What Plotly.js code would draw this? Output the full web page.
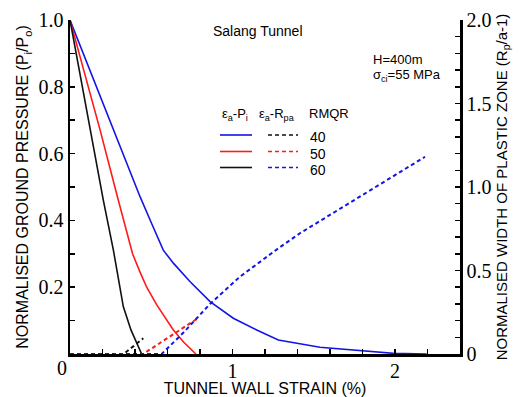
<!DOCTYPE html>
<html>
<head>
<meta charset="utf-8">
<script src="https://cdn.plot.ly/plotly-3.0.1.min.js"></script>
<style>
html,body{margin:0;padding:0;background:#fff;}
#chart{width:520px;height:397px;}
</style>
</head>
<body>
<div id="chart"></div>
<script>
// Ground reaction curves (tunnel wall strain % vs normalised ground pressure Pi/Po)
const strainP40 = [0, 0.267, 0.349, 0.431, 0.503, 0.574, 0.636, 0.738, 0.862, 1.005, 1.149, 1.282, 1.538, 1.785, 1.99, 2.195];
const pres40    = [1.0, 0.671, 0.571, 0.471, 0.39, 0.311, 0.272, 0.217, 0.157, 0.107, 0.072, 0.042, 0.020, 0.009, 0.002, 0];
const strainP50 = [0, 0.185, 0.297, 0.385, 0.431, 0.472, 0.533, 0.636, 0.70, 0.775];
const pres50    = [1.0, 0.671, 0.461, 0.30, 0.245, 0.200, 0.148, 0.072, 0.035, 0];
const strainP60 = [0, 0.123, 0.205, 0.267, 0.328, 0.375, 0.441];
const pres60    = [1.0, 0.671, 0.461, 0.311, 0.142, 0.072, 0];
// Plastic zone curves (tunnel wall strain % vs Rp/a-1)
const strainR40 = [0, 0.564, 0.70, 0.862, 1.046, 1.282, 1.415, 1.6, 2.185];
const rpa40     = [0, 0, 0.13, 0.30, 0.463, 0.633, 0.723, 0.832, 1.181];
const strainR50 = [0, 0.45, 0.78];
const rpa50     = [0, 0, 0.21];
const strainR60 = [0, 0.33, 0.451];
const rpa60     = [0, 0, 0.094];
// Axis ticks (unlabelled entries are the small intermediate ticks)
const xTickVals  = [0.2, 0.4, 0.6, 0.8, 1.0, 1.2, 1.4, 1.6, 1.8, 2.0, 2.2];
const xTickText  = ['', '', '', '', '1', '', '', '', '', '2', ''];
const yTickVals  = [0.1, 0.2, 0.3, 0.4, 0.5, 0.6, 0.7, 0.8, 0.9, 1.0];
const yTickText  = ['', '0.2', '', '0.4', '', '0.6', '', '0.8', '', '1.0'];
const y2TickVals = [0, 0.1, 0.2, 0.3, 0.4, 0.5, 0.6, 0.7, 0.8, 0.9, 1.0, 1.1, 1.2, 1.3, 1.4, 1.5, 1.6, 1.7, 1.8, 1.9, 2.0];
const y2TickText = ['0', '', '', '', '', '0.5', '', '', '', '', '1.0', '', '', '', '', '1.5', '', '', '', '', '2.0'];
const rmrLabels = ['40', '50', '60'];

const BLUE = '#1414e6', RED = '#ff1a1a', BLACK = '#111111';
const dash = '4px,3px';

const traces = [
  {x: strainR50, y: rpa50, yaxis: 'y2', mode: 'lines', line: {color: RED, width: 2, dash: dash}, name: 'Rpa 50'},
  {x: strainR60, y: rpa60, yaxis: 'y2', mode: 'lines', line: {color: BLACK, width: 2, dash: dash}, name: 'Rpa 60'},
  {x: strainR40, y: rpa40, yaxis: 'y2', mode: 'lines', line: {color: BLUE, width: 2, dash: dash}, name: 'Rpa 40'},
  {x: strainP40, y: pres40, mode: 'lines', line: {color: BLUE, width: 1.6}, name: 'Pi 40'},
  {x: strainP50, y: pres50, mode: 'lines', line: {color: RED, width: 1.6}, name: 'Pi 50'},
  {x: strainP60, y: pres60, mode: 'lines', line: {color: BLACK, width: 1.6}, name: 'Pi 60'}
];

const SANS = 'Liberation Sans';
const SERIF = 'Liberation Serif';
const px = v => (v - 70) / 390;
const py = v => (354 - v) / 334;

const legendRowsY = [135, 151.5, 167.5];
const solidColors = [BLUE, RED, BLACK];
const dashColors = [BLACK, RED, BLUE];
const shapes = [];
const txt = (text, x, y, xanchor, size) => ({
  text: text, x: px(x), y: py(y), xref: 'paper', yref: 'paper', xanchor: xanchor, yanchor: 'middle',
  showarrow: false, font: {family: SANS, size: size, color: '#000'}
});
const annotations = [
  {text: '0', x: 0, y: 0, xref: 'paper', yref: 'paper', xanchor: 'center', yanchor: 'top', xshift: -8, yshift: -1, showarrow: false, font: {family: SERIF, size: 20, color: '#000'}},
  txt('Salang Tunnel', 258, 31, 'center', 14),
  txt('H=400m', 371, 60, 'left', 13),
  txt('σ<sub>ci</sub>=55 MPa', 371, 75, 'left', 13),
  txt('ε<sub>a</sub>-P<sub>i</sub>', 235, 115, 'center', 13),
  txt('ε<sub>a</sub>-R<sub>pa</sub>', 277, 115, 'center', 13),
  txt('RMQR', 329, 113, 'center', 13)
];
legendRowsY.forEach((ry, i) => {
  shapes.push({type: 'line', xref: 'paper', yref: 'paper', x0: px(220), x1: px(252), y0: py(ry), y1: py(ry), line: {color: solidColors[i], width: 1.6}});
  shapes.push({type: 'line', xref: 'paper', yref: 'paper', x0: px(268), x1: px(298), y0: py(ry), y1: py(ry), line: {color: dashColors[i], width: 1.6, dash: dash}});
  annotations.push(txt(rmrLabels[i], 318, ry + 2, 'center', 14));
});

const layout = {
  width: 520, height: 397,
  margin: {l: 70, r: 60, t: 20, b: 43},
  font: {family: SERIF, size: 20, color: '#000'},
  paper_bgcolor: '#fff', plot_bgcolor: '#fff',
  showlegend: false,
  xaxis: {
    range: [0, 2.4], tickmode: 'array', tickvals: xTickVals, ticktext: xTickText,
    ticks: 'inside', ticklen: 5, tickwidth: 1.5, tickcolor: '#000', ticklabelstandoff: -3,
    showline: true, linewidth: 2.5, linecolor: '#000', showgrid: false, zeroline: false,
    tickfont: {family: SERIF, size: 20, color: '#000'},
    title: {text: 'TUNNEL WALL STRAIN (%)', font: {family: SANS, size: 16, color: '#000'}, standoff: 4}
  },
  yaxis: {
    range: [0, 1.0], tickmode: 'array', tickvals: yTickVals, ticktext: yTickText,
    ticks: 'inside', ticklen: 5, tickwidth: 1.5, tickcolor: '#000',
    showline: true, linewidth: 2.5, linecolor: '#000', showgrid: false, zeroline: false,
    tickfont: {family: SERIF, size: 20, color: '#000'},
    title: {text: 'NORMALISED GROUND PRESSURE (P<sub>i</sub>/P<sub>o</sub>)', font: {family: SANS, size: 16, color: '#000'}, standoff: 6}
  },
  yaxis2: {
    overlaying: 'y', side: 'right', anchor: 'x',
    range: [0, 2.0], tickmode: 'array', tickvals: y2TickVals, ticktext: y2TickText,
    ticks: 'inside', ticklen: 5, tickwidth: 1.5, tickcolor: '#000',
    showline: true, linewidth: 2.5, linecolor: '#000', showgrid: false, zeroline: false,
    tickfont: {family: SERIF, size: 20, color: '#000'},
    title: {text: 'NORMALISED WIDTH OF PLASTIC ZONE (R<sub>p</sub>/a-1)', font: {family: SANS, size: 15, color: '#000'}, standoff: 6}
  },
  shapes: shapes,
  annotations: annotations
};

Plotly.newPlot('chart', traces, layout, {displayModeBar: false, staticPlot: true});
</script>
</body>
</html>
